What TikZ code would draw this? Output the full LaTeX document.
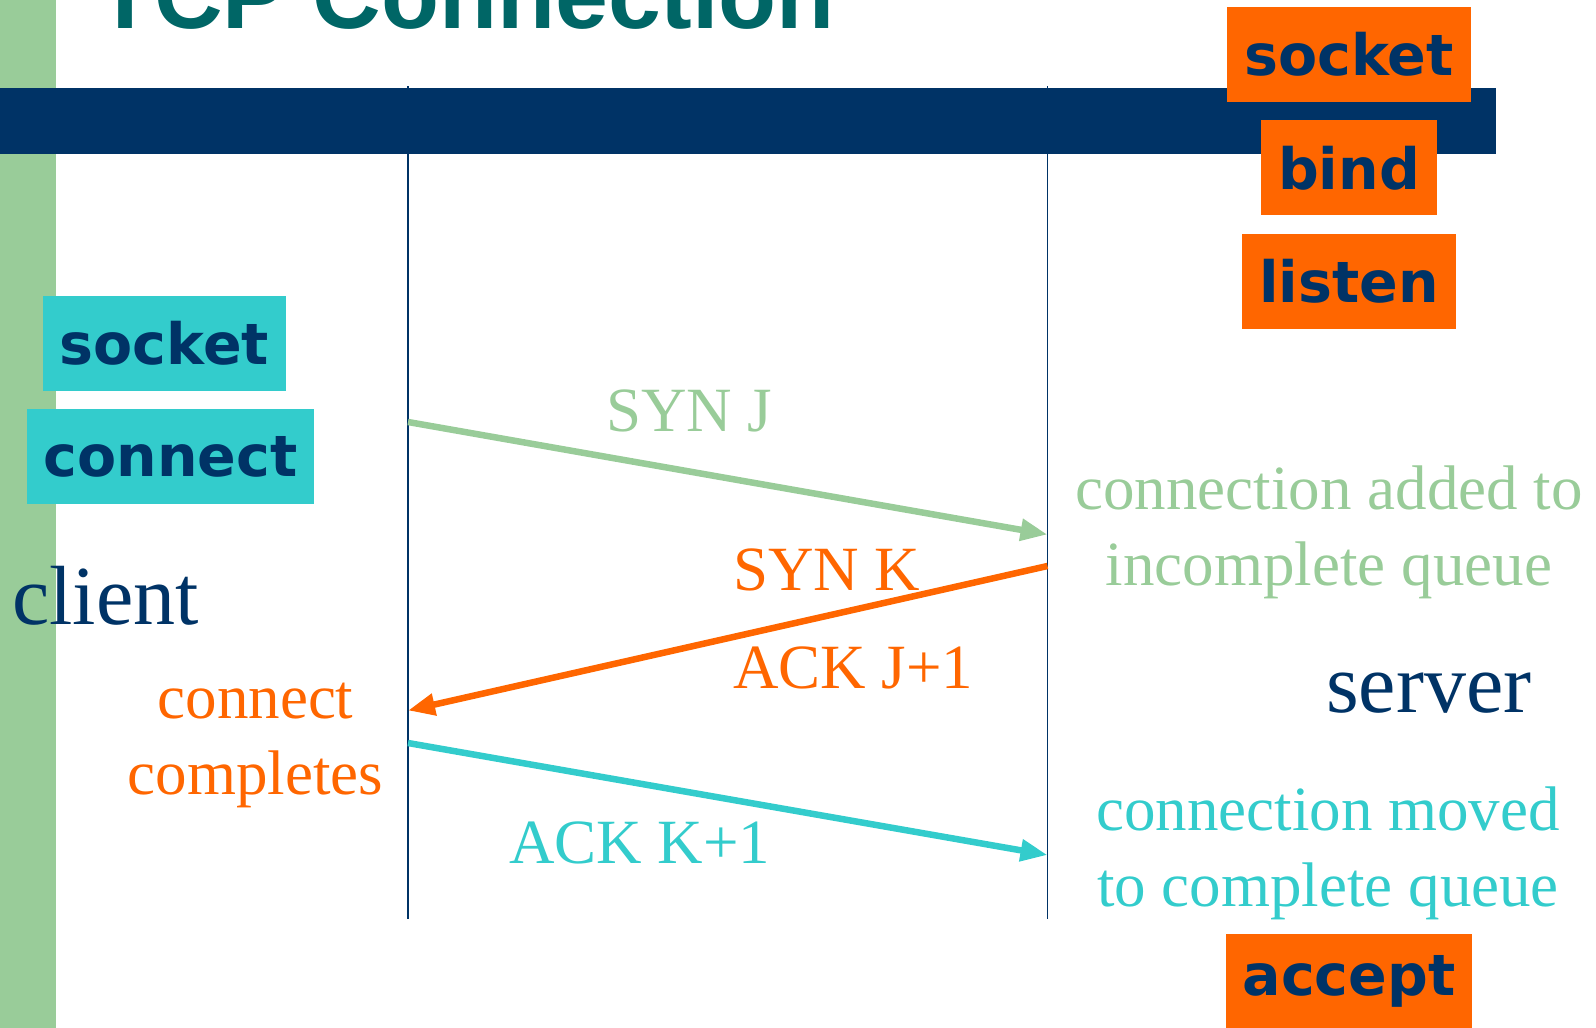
\documentclass[tikz,border=0pt]{standalone}
\usepackage{fontspec}
\setmainfont{Liberation Serif}
\newfontfamily\callfont{DejaVu Sans}
\newfontfamily\headfont{Liberation Sans}
\usetikzlibrary{arrows.meta,positioning}
\definecolor{navy}{HTML}{003366}
\definecolor{tcporange}{HTML}{FF6600}
\definecolor{tcpteal}{HTML}{33CCCC}
\definecolor{tcpgreen}{HTML}{99CC99}
\definecolor{headteal}{HTML}{006666}
\begin{document}
\begin{tikzpicture}[x=1pt,y=-1pt,node distance=18pt,>={Triangle[length=27pt,width=21pt]},
call/.style={inner sep=0pt,inner xsep=17pt,minimum height=95pt,text=navy,font=\callfont\bfseries\fontsize{57}{68}\selectfont},
srv/.style={call,fill=tcporange},
cli/.style={call,fill=tcpteal},
msg/.style={inner sep=0pt,font=\fontsize{63}{76}\selectfont,align=center},
role/.style={inner sep=0pt,text=navy,font=\fontsize{84}{100}\selectfont},
life/.style={draw=navy,line width=1.5pt},
pkt/.style={->,line width=6.5pt}]
\useasboundingbox (0,0) rectangle (1596,1028);
\fill[tcpgreen] (0,0) rectangle (56,1028);
\fill[navy] (0,87.5) rectangle (1496,153.7);
\node[anchor=base west,inner sep=0pt,text=headteal,font=\headfont\bfseries\fontsize{95}{110}\selectfont] (title) at (96,28.5) {TCP Connection};
\coordinate (ctop) at (408,86); \coordinate (cbot) at (408,919);
\coordinate (stop) at (1047.5,86); \coordinate (sbot) at (1047.5,919);
\draw[life] (ctop)--(cbot); \draw[life] (stop)--(sbot);
\node[srv] (ssock) at (1349,54.5) {socket};
\node[srv,below=of ssock] (sbind) {bind};
\node[srv,below=of sbind] (slisten) {listen};
\node[srv] (saccept) at (1349,981.5) {accept};
\node[cli] (csock) at (164.5,343) {socket};
\node[cli,below=of csock,xshift=6pt] (cconn) {connect};
\node[role,anchor=base west] (client) at (12,624) {client};
\node[role,anchor=base west] (server) at (1326,712.5) {server};
\coordinate (c1) at (408,422); \coordinate (s1) at (1047.5,534.5);
\coordinate (s2) at (1047.5,566); \coordinate (c2) at (408,710.5);
\coordinate (c3) at (408,743); \coordinate (s3) at (1047.5,855);
\draw[pkt,tcpgreen] (c1)--(s1);
\draw[pkt,tcporange] (s2)--(c2);
\draw[pkt,tcpteal] (c3)--(s3);
\node[msg,anchor=base west,text=tcpgreen] (synj) at (606,431) {SYN J};
\node[msg,anchor=base west,text=tcporange] (synk) at (733,590) {SYN K};
\node[msg,anchor=base west,text=tcporange] (ackj) at (733,688) {ACK J+1};
\node[msg,anchor=base west,text=tcpteal] (ackk) at (509,863) {ACK K+1};
\node[msg,anchor=base,text=tcpgreen] (added) at (1329,585) {connection added to\\incomplete queue};
\node[msg,anchor=base,text=tcpteal] (moved) at (1328,906) {connection moved\\to complete queue};
\node[msg,anchor=base,text=tcporange] (done) at (255.5,794) {connect\\completes};
\end{tikzpicture}
\end{document}
